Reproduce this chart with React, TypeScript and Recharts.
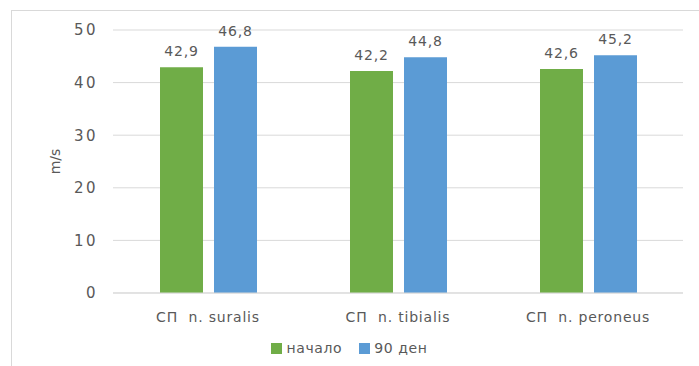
import React from 'react';
import { BarChart, Bar, XAxis, YAxis, CartesianGrid, Legend, LabelList } from 'recharts';

const categories = ['СП\u00a0 n. suralis', 'СП\u00a0 n. tibialis', 'СП\u00a0 n. peroneus'];
const startValues = [42.9, 42.2, 42.6];
const day90Values = [46.8, 44.8, 45.2];
const seriesNames = ['начало', '90 ден'];
const yTicks = [0, 10, 20, 30, 40, 50];

const data = categories.map((name, i) => ({
  name,
  start: startValues[i],
  day90: day90Values[i],
}));

const GREEN = '#70AD47';
const BLUE = '#5B9BD5';
const TEXT = '#595959';
const GRID = '#d9d9d9';
const FONT = '"DejaVu Sans", sans-serif';

const fmt = (v: number) => String(v).replace('.', ',');

const LegendContent = (props: any) => {
  const items = [...(props.payload || [])].sort(
    (a: any, b: any) => seriesNames.indexOf(a.value) - seriesNames.indexOf(b.value)
  );
  return (
    <div style={{ display: 'flex', justifyContent: 'center', fontFamily: FONT, fontSize: 14, color: TEXT, lineHeight: '18px' }}>
      {items.map((it: any, i: number) => (
        <div key={i} style={{ display: 'flex', alignItems: 'center', marginRight: i === 0 ? 17 : 0 }}>
          <span style={{ display: 'inline-block', width: 11, height: 11, background: it.color, marginRight: 4 }} />
          <span style={{ letterSpacing: 0.6 }}>{it.value}</span>
        </div>
      ))}
    </div>
  );
};

const YLabel = (props: any) => {
  const vb = props.viewBox || {};
  const cx = 55;
  const cy = vb.y + vb.height / 2;
  return (
    <text x={cx} y={cy} transform={`rotate(-90 ${cx} ${cy})`} textAnchor="middle" dominantBaseline="central"
      fill={TEXT} fontFamily={FONT} fontSize={14}>
      m/s
    </text>
  );
};

export default function App() {
  return (
    <div style={{ position: 'absolute', left: 0, top: 0, width: 699, height: 366, background: '#fff' }}>
      <div style={{ position: 'absolute', left: 11, top: 10, right: 0, bottom: 0, borderTop: `1px solid ${GRID}`, borderLeft: `1px solid ${GRID}` }} />
      <BarChart
        width={699}
        height={366}
        data={data}
        margin={{ top: 30, right: 16, bottom: 25, left: 0 }}
        barSize={43}
        barGap={11}
        style={{ position: 'absolute', left: 0, top: 0 }}
      >
        <CartesianGrid vertical={false} stroke={GRID} />
        <XAxis
          dataKey="name"
          axisLine={{ stroke: GRID }}
          tickLine={false}
          tickMargin={13}
          tick={{ fill: TEXT, fontFamily: FONT, fontSize: 14, letterSpacing: 0.8 }}
        />
        <YAxis
          width={113}
          domain={[0, 50]}
          ticks={yTicks}
          axisLine={false}
          tickLine={false}
          tickMargin={9}
          tick={{ fill: TEXT, fontFamily: FONT, fontSize: 15, letterSpacing: 2.5 }}
          label={<YLabel />}
        />
        <Legend verticalAlign="bottom" content={<LegendContent />} wrapperStyle={{ top: 339, left: 0, width: 699 }} />
        <Bar dataKey="start" name={seriesNames[0]} fill={GREEN} isAnimationActive={false}>
          <LabelList dataKey="start" position="top" offset={11} formatter={fmt}
            style={{ fill: TEXT, fontFamily: FONT, fontSize: 14, letterSpacing: 0.8 }} />
        </Bar>
        <Bar dataKey="day90" name={seriesNames[1]} fill={BLUE} isAnimationActive={false}>
          <LabelList dataKey="day90" position="top" offset={11} formatter={fmt}
            style={{ fill: TEXT, fontFamily: FONT, fontSize: 14, letterSpacing: 0.8 }} />
        </Bar>
      </BarChart>
    </div>
  );
}
